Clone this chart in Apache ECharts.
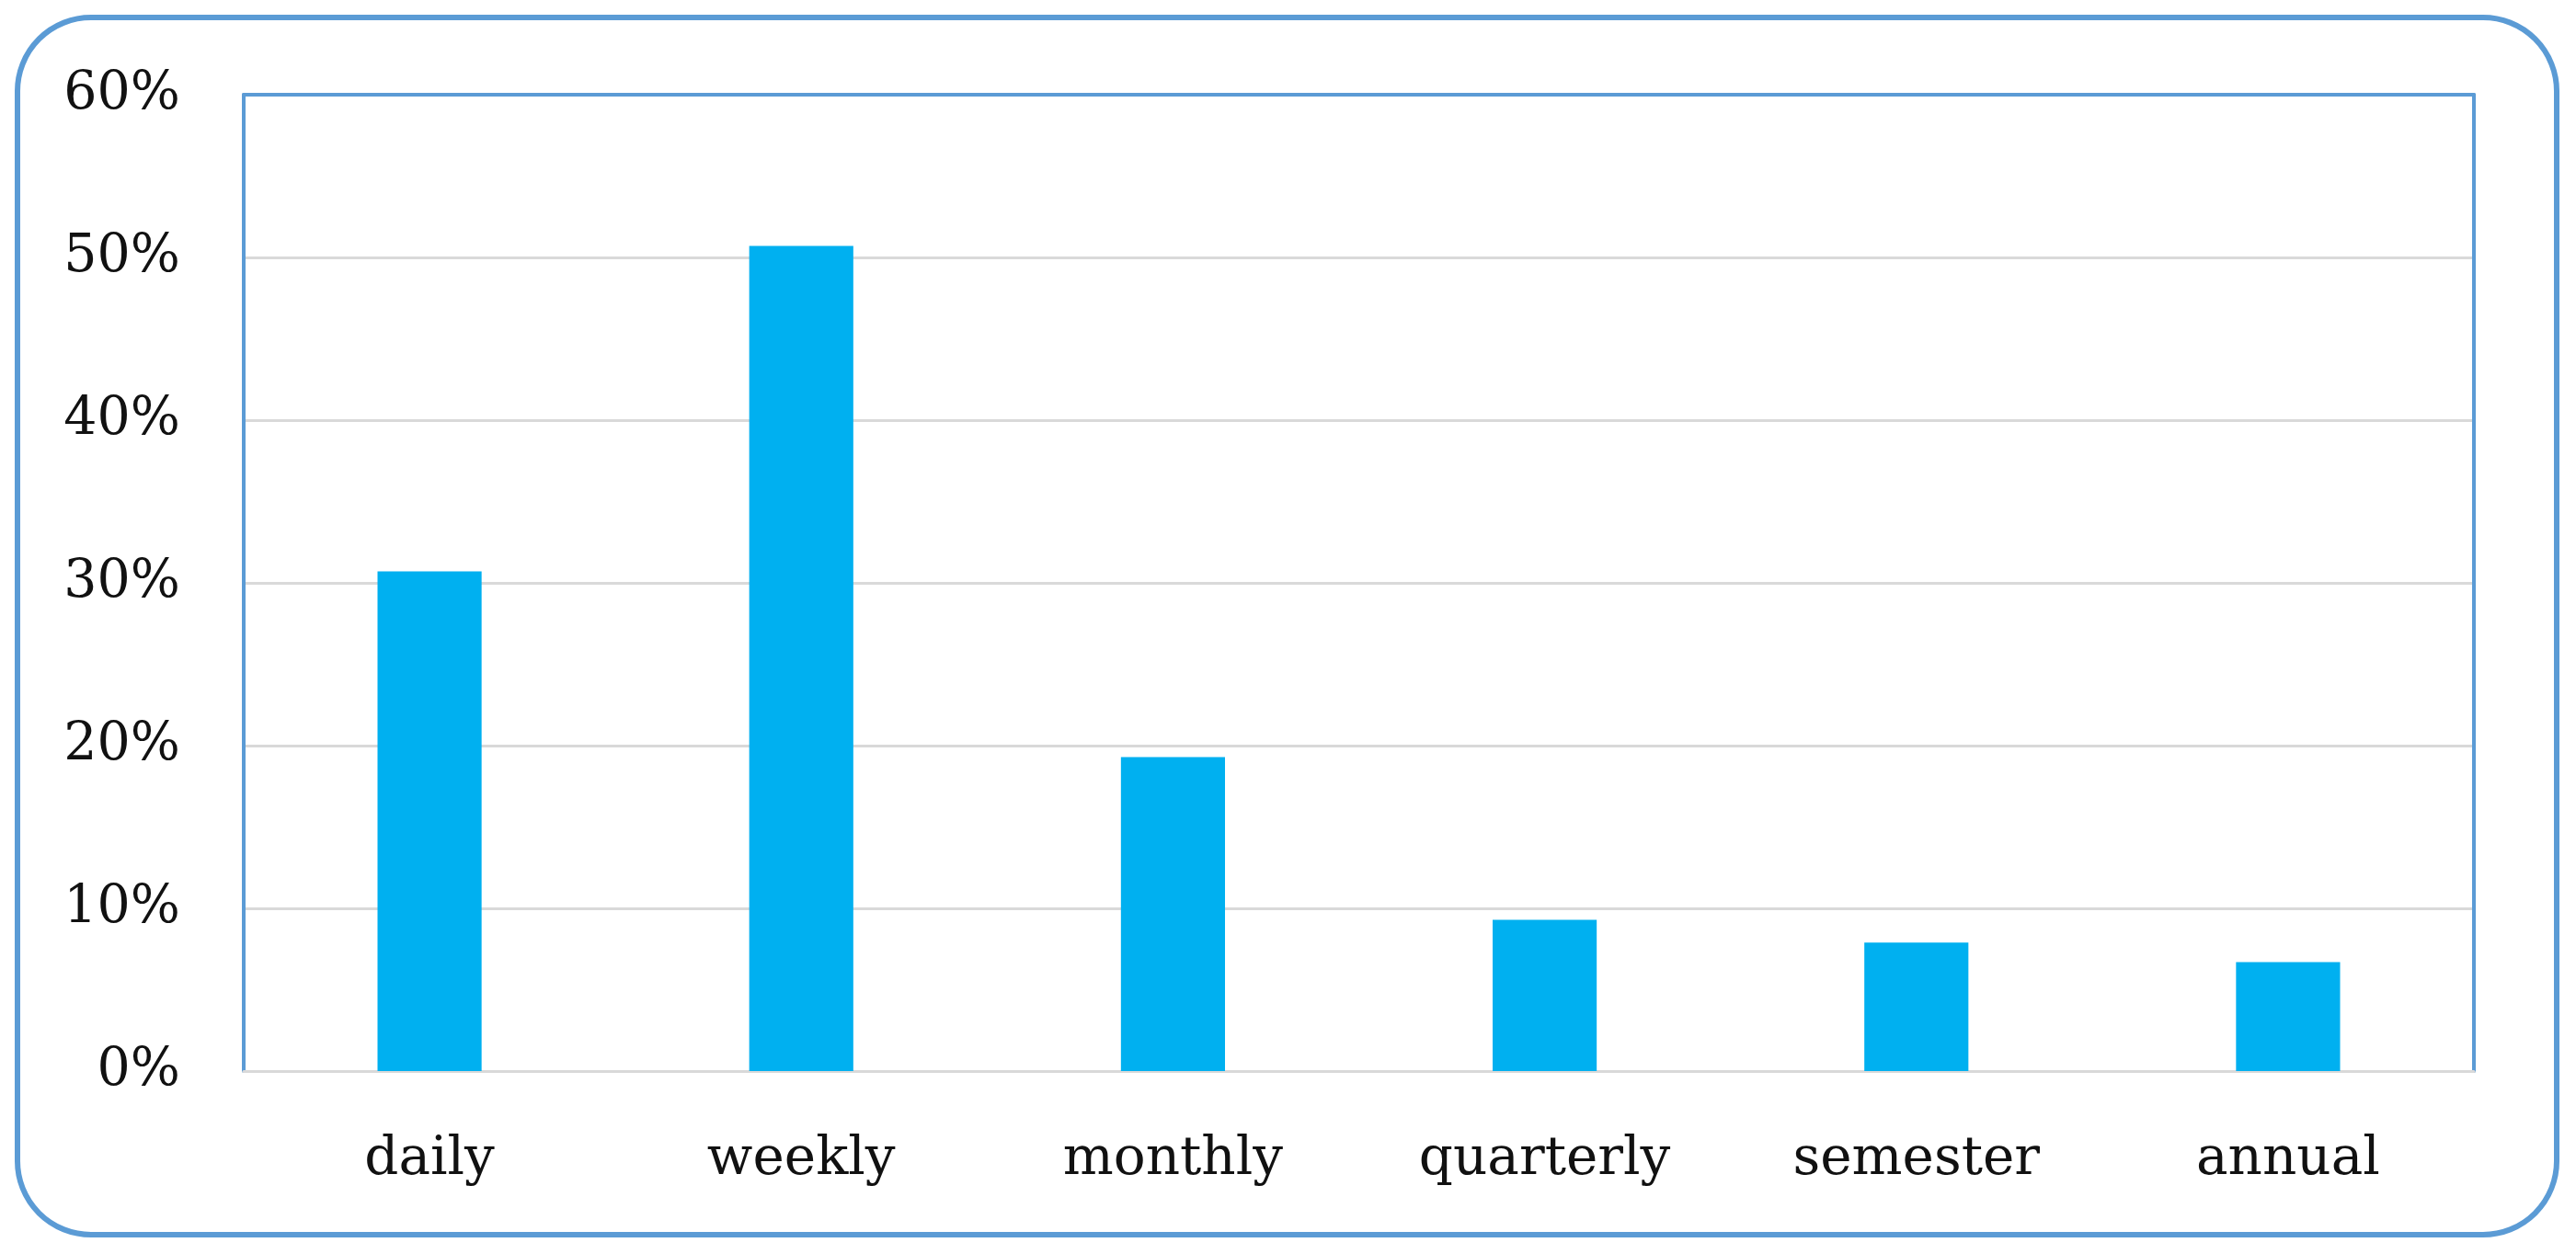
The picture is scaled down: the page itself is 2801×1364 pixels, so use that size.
<!DOCTYPE html>
<html>
<head>
<meta charset="utf-8">
<style>
  html, body { margin: 0; padding: 0; background: #ffffff; }
  #chart { width: 2801px; height: 1364px; }
</style>
<script src="https://cdn.jsdelivr.net/npm/echarts@6/dist/echarts.min.js"></script>
</head>
<body>
<div id="chart"></div>
<script>
const categories = ['daily', 'weekly', 'monthly', 'quarterly', 'semester', 'annual'];
const shares = [30.7, 50.7, 19.3, 9.3, 7.9, 6.7];
const yTicks = [0, 10, 20, 30, 40, 50, 60];

const FONT = 'DejaVu Serif';
const FRAME = '#5B9BD5';
const GRIDC = '#d9d9d9';

const chart = echarts.init(document.getElementById('chart'), null, { renderer: 'canvas' });
chart.setOption({
  backgroundColor: '#ffffff',
  animation: false,
  graphic: [{
    type: 'rect',
    shape: { x: 19, y: 19, width: 2761, height: 1324, r: 80 },
    style: { fill: 'none', stroke: FRAME, lineWidth: 6 },
    z: 100
  }],
  grid: { left: 265, right: 111, top: 103, bottom: 199 },
  xAxis: [{
    type: 'category',
    data: categories,
    position: 'bottom',
    axisLine: { show: true, lineStyle: { color: GRIDC, width: 3 } },
    axisTick: { show: false },
    axisLabel: { color: '#111', fontFamily: FONT, fontSize: 58, margin: 68 },
    splitLine: { show: false }
  }, {
    type: 'category',
    data: categories,
    position: 'top',
    axisLine: { show: true, onZero: false, lineStyle: { color: FRAME, width: 4 } },
    axisTick: { show: false },
    axisLabel: { show: false }
  }],
  yAxis: [{
    type: 'value',
    min: 0, max: 60, interval: 10,
    position: 'left',
    axisLine: { show: true, lineStyle: { color: FRAME, width: 4 } },
    axisTick: { show: false },
    axisLabel: {
      color: '#111', fontFamily: FONT, fontSize: 57, margin: 69,
      padding: [6, 0, 0, 0],
      formatter: v => yTicks.includes(v) ? v + '%' : ''
    },
    splitLine: { show: true, lineStyle: { color: GRIDC, width: 3 } }
  }, {
    type: 'value',
    min: 0, max: 60, interval: 10,
    position: 'right',
    axisLine: { show: true, lineStyle: { color: FRAME, width: 4 } },
    axisTick: { show: false },
    axisLabel: { show: false },
    splitLine: { show: false }
  }],
  series: [{
    type: 'bar',
    data: shares,
    xAxisIndex: 0,
    yAxisIndex: 0,
    barWidth: '28%',
    itemStyle: { color: '#00B0F0' },
    z: 3
  }]
});
</script>
</body>
</html>
